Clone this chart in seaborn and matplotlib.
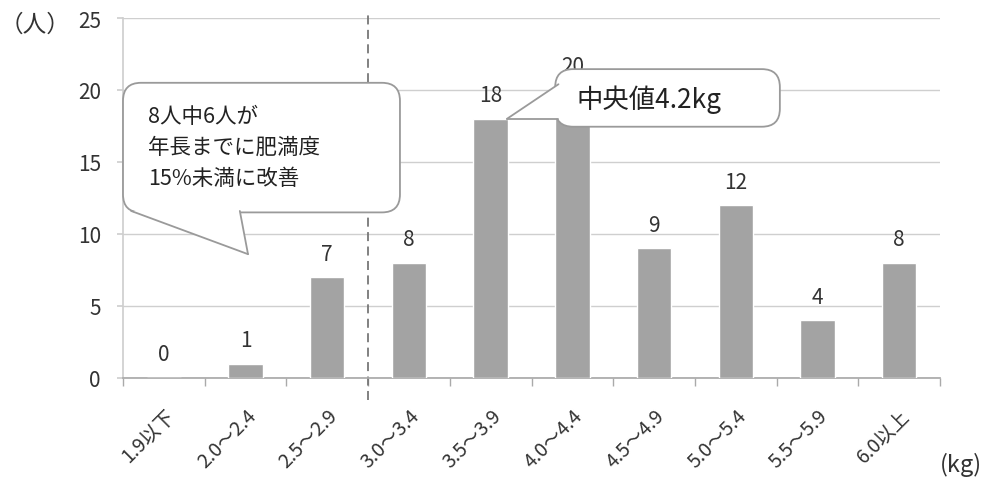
import matplotlib
matplotlib.use("Agg")
import matplotlib.pyplot as plt
import numpy as np
import seaborn as sns
from matplotlib.patches import FancyBboxPatch, Polygon

# データ
categories = ["1.9以下", "2.0～2.4", "2.5～2.9", "3.0～3.4", "3.5～3.9",
              "4.0～4.4", "4.5～4.9", "5.0～5.4", "5.5～5.9", "6.0以上"]
counts = [0, 1, 7, 8, 18, 20, 9, 12, 4, 8]
y_ticks = [0, 5, 10, 15, 20, 25]
note_text = "8人中6人が\n年長までに肥満度\n15%未満に改善"
median_text = "中央値4.2kg"

sns.set_theme(style="white")
plt.rcParams["font.family"] = ["Noto Sans CJK JP", "DejaVu Sans"]

BAR = "#a3a3a3"
GRID = "#cfcfcf"
TXT = "#333333"

fig = plt.figure(figsize=(9.85, 4.81), dpi=100)
ax = fig.add_axes([123 / 985, 102 / 481, 817 / 985, 360 / 481])

sns.barplot(x=categories, y=counts, color=BAR, saturation=1, width=0.42,
            ax=ax, zorder=3)

ax.set_xlim(-0.5, len(categories) - 0.5)
ax.set_ylim(0, 25)
ax.set_yticks(y_ticks)
ax.set_yticklabels([str(v) for v in y_ticks], fontsize=15, color=TXT)
ax.yaxis.grid(True, color=GRID, linewidth=1)
ax.set_axisbelow(True)
ax.tick_params(axis="y", length=4, color=GRID, pad=12, left=True)

ax.set_xticks(range(len(categories)))
ax.set_xticklabels(categories, rotation=45, ha="right",
                   rotation_mode="anchor", fontsize=14, color=TXT)
ax.set_xticks(np.arange(-0.5, len(categories)), minor=True)
ax.tick_params(axis="x", which="major", length=0, pad=19)
ax.tick_params(axis="x", which="minor", length=6, color="#aaaaaa",
               bottom=True)
ax.set_xlabel("")
ax.set_ylabel("")

for side in ["top", "right"]:
    ax.spines[side].set_visible(False)
ax.spines["left"].set_color(GRID)
ax.spines["bottom"].set_color("#aaaaaa")

# 値ラベル
for i, v in enumerate(counts):
    ax.annotate(str(v), (i, v), xytext=(0, 9), textcoords="offset points",
                ha="center", va="bottom", fontsize=15, color=TXT, zorder=4)

# 破線
ax.plot([2.5, 2.5], [-1.5, 25.3], color="#777777", linestyle=(0, (5, 3)),
        linewidth=1.3, clip_on=False, zorder=2)

# 吹き出し
px_x = 1 / 81.7
px_y = 1 / 14.4
aspect = px_y / px_x


def callout(x0, y0, x1, y1, tail, text, fs, tx, ty, ls=1.5):
    box = FancyBboxPatch((x0, y0), x1 - x0, y1 - y0,
                         boxstyle="round,pad=0,rounding_size=%f" % (18 * px_x),
                         mutation_aspect=aspect, facecolor="white",
                         edgecolor="#9a9a9a", linewidth=1.3, zorder=6,
                         clip_on=False)
    ax.add_patch(box)
    ax.add_patch(Polygon(tail, closed=True, facecolor="white",
                         edgecolor="none", zorder=7, clip_on=False))
    ax.plot([tail[0][0], tail[1][0]], [tail[0][1], tail[1][1]],
            color="#9a9a9a", linewidth=1.3, zorder=8, clip_on=False)
    ax.plot([tail[1][0], tail[2][0]], [tail[1][1], tail[2][1]],
            color="#9a9a9a", linewidth=1.3, zorder=8, clip_on=False)
    ax.text(tx, ty, text, fontsize=fs, color="#222222", ha="left",
            va="center", linespacing=ls, zorder=9)


callout(-0.5, 11.5, 2.89, 20.5,
        [(-0.40, 11.6), (1.03, 8.6), (0.93, 11.6)],
        note_text, 15.5, -0.19, 16.05, ls=1.55)
callout(4.79, 17.45, 7.54, 21.45,
        [(4.83, 20.4), (4.20, 18.0), (4.83, 18.0)],
        median_text, 19, 5.05, 19.4)

fig.text(0 / 985, 1 - 25 / 481, "（人）", fontsize=17, color=TXT,
         ha="left", va="center")
fig.text(982 / 985, 1 - 465 / 481, "(kg)", fontsize=17, color=TXT,
         ha="right", va="center")

fig.savefig("out.png", dpi=100, facecolor="white")
